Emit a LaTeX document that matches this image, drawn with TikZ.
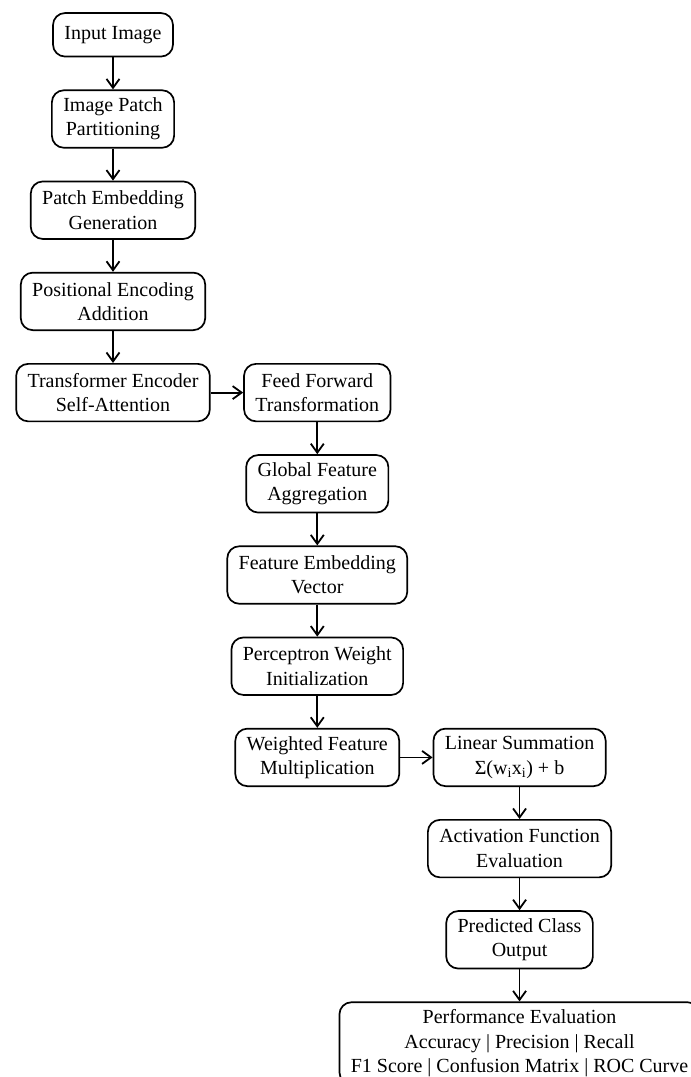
\documentclass[tikz,border=0pt]{standalone}
\usepackage{fontspec}
\setmainfont{Liberation Serif}
\usetikzlibrary{
  positioning,
  arrows.meta
}

\begin{document}
\begin{tikzpicture}[x=1pt,y=1pt,
  font=\fontsize{20}{24.3}\selectfont,
  >={Straight Barb[length=9pt,width=13pt]},
  node distance=32pt and 32.5pt,
  stepbox/.style={draw, line width=1.7pt, rounded corners=12pt,
    align=center, inner xsep=11.4pt, minimum height=57.5pt},
  flow/.style={->, line width=1.8pt}]
  \useasboundingbox (0,0) rectangle (691,-1077);

  % ---------- first column ----------
  \node[stepbox, minimum height=43.5pt] (input) at (113,-34.8) {Input Image};
  \node[stepbox, below=of input]   (patch)   {Image Patch\\Partitioning};
  \node[stepbox, below=of patch]   (embed)   {Patch Embedding\\Generation};
  \node[stepbox, below=of embed]   (posenc)  {Positional Encoding\\Addition};
  \node[stepbox, below=of posenc]  (encoder) {Transformer Encoder\\Self-Attention};

  % ---------- second column ----------
  \node[stepbox, right=of encoder] (ffn)      {Feed Forward\\Transformation};
  \node[stepbox, below=of ffn]     (gfa)      {Global Feature\\Aggregation};
  \node[stepbox, below=of gfa]     (featvec)  {Feature Embedding\\Vector};
  \node[stepbox, below=of featvec] (percep)   {Perceptron Weight\\Initialization};
  \node[stepbox, below=of percep]  (weighted) {Weighted Feature\\Multiplication};

  % ---------- third column ----------
  \node[stepbox, right=of weighted] (linsum) {Linear Summation\\Σ(w\textsubscript{i}x\textsubscript{i}) + b};
  \node[stepbox, below=of linsum]   (activ)  {Activation Function\\Evaluation};
  \node[stepbox, below=of activ]    (pred)   {Predicted Class\\Output};
  \node[stepbox, below=of pred, minimum height=82pt] (perf)
    {Performance Evaluation\\Accuracy | Precision | Recall\\F1 Score | Confusion Matrix | ROC Curve};

  % connectors
  \foreach \a/\b in {input/patch, patch/embed, embed/posenc, posenc/encoder,
      encoder/ffn, ffn/gfa, gfa/featvec, featvec/percep, percep/weighted,
      weighted/linsum, linsum/activ, activ/pred, pred/perf}
    \draw[flow] (\a) -- (\b);
\end{tikzpicture}
\end{document}
